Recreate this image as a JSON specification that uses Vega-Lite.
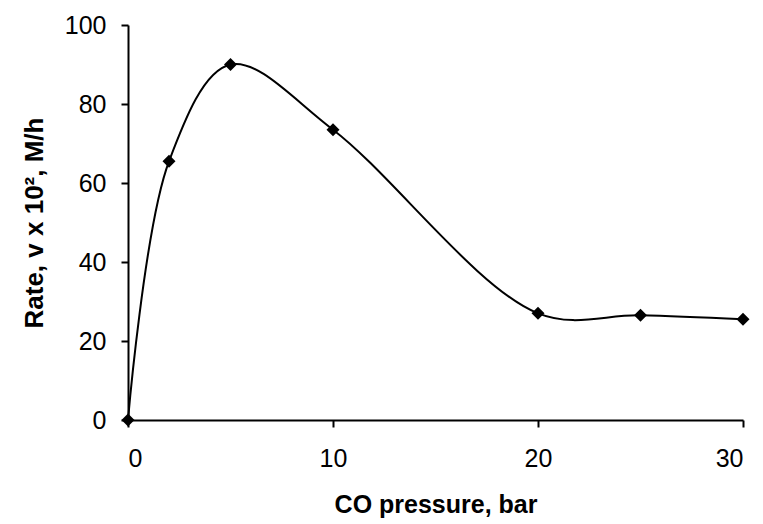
{
  "$schema": "https://vega.github.io/schema/vega-lite/v6.json",
  "autosize": "none",
  "width": 615,
  "height": 395,
  "padding": {"left": 128, "top": 25, "right": 20, "bottom": 104},
  "background": "white",
  "config": {
    "view": {"stroke": null},
    "font": "Liberation Sans",
    "axis": {
      "grid": false,
      "domainColor": "black",
      "domainWidth": 2,
      "tickColor": "black",
      "tickWidth": 2,
      "tickSize": 7,
      "labelFont": "Liberation Sans",
      "labelFontSize": 25,
      "labelColor": "black",
      "titleFont": "Liberation Sans",
      "titleFontWeight": "bold",
      "titleColor": "black"
    }
  },
  "data": {
    "values": [
      {"p": 0, "rate": 0},
      {"p": 2, "rate": 65.5},
      {"p": 5, "rate": 90},
      {"p": 10, "rate": 73.5},
      {"p": 20, "rate": 27},
      {"p": 25, "rate": 26.5},
      {"p": 30, "rate": 25.5}
    ]
  },
  "encoding": {
    "x": {
      "field": "p", "type": "quantitative",
      "scale": {"domain": [0, 30], "nice": false},
      "axis": {"values": [0, 10, 20, 30], "title": "CO pressure, bar", "titleFontSize": 25, "labelPadding": 19, "titlePadding": 21}
    },
    "y": {
      "field": "rate", "type": "quantitative",
      "scale": {"domain": [0, 100], "nice": false},
      "axis": {"values": [0, 20, 40, 60, 80, 100], "title": "Rate, v x 10², M/h", "titleFontSize": 26, "labelPadding": 15, "titlePadding": 17}
    }
  },
  "layer": [
    {"mark": {"type": "line", "interpolate": "catmull-rom", "color": "black", "strokeWidth": 2}},
    {"mark": {"type": "point", "shape": "diamond", "filled": true, "color": "black", "opacity": 1, "size": 170}}
  ]
}
